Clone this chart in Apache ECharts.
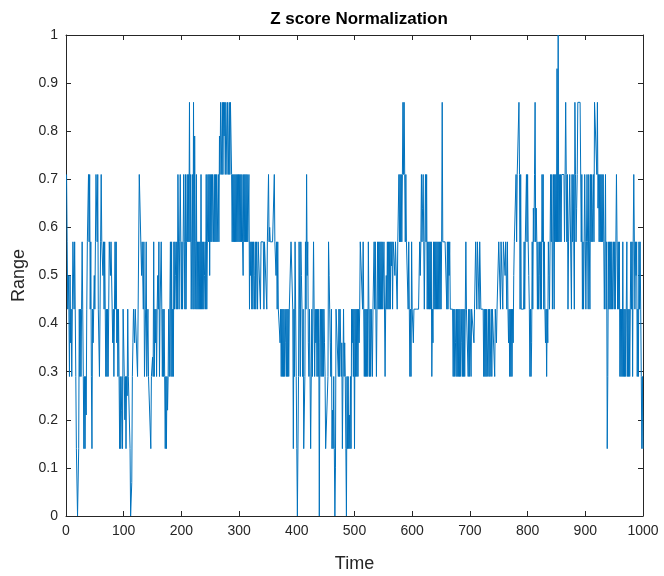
<!DOCTYPE html>
<html>
<head>
<meta charset="utf-8">
<script src="https://cdn.jsdelivr.net/npm/echarts@6/dist/echarts.min.js"></script>
<style>html,body{margin:0;padding:0;background:#fff}#c{width:664px;height:576px}</style>
</head>
<body>
<div id="c"></div>
<script>
var xTicks = [0,100,200,300,400,500,600,700,800,900,1000];
var yTicks = [0,0.1,0.2,0.3,0.4,0.5,0.6,0.7,0.8,0.9,1];

var v000 = [
.71,.57,.43,.5,.43,.29,.5,.36,.43,.29,
.43,.57,.57,.43,.57,.43,.29,.14,.14,0,
0,.14,.43,.29,.43,.29,.43,.57,.43,.29,
.14,.29,.14,.29,.21,.43,.57,.57,.71,.57,
.71,.43,.57,.29,.14,.43,.36,.43,.5,.43,
.57,.71,.71,.57,.71,.43,.43,.29,.43,.57,
.71,.57,.57,.5,.57,.43,.57,.43,.29,.43,
.29,.43,.29,.43,.57,.57,.5,.57,.57,.43,
.36,.43,.29,.43,.57,.43,.57,.36,.43,.29,
.43,.29,.14,.29,.14,.22,.29,.14,.43,.43];
var v100 = [
.29,.2,.29,.14,.29,.25,.43,.29,.29,.29,
.14,0,0,.07,.29,.36,.43,.43,.36,.43,
.43,.43,.43,.29,.43,.43,.71,.71,.71,.71,
.5,.57,.57,.43,.57,.29,.29,.43,.57,.29,
.29,.43,.29,.29,.29,.29,.14,.29,.29,.33,
.29,.57,.29,.43,.36,.43,.29,.43,.5,.43,
.57,.29,.43,.43,.57,.43,.29,.43,.29,.43,
.29,.14,.29,.14,.29,.22,.29,.43,.29,.43,
.57,.29,.57,.29,.43,.29,.57,.43,.57,.5,
.43,.57,.43,.71,.71,.43,.57,.71,.57,.43];
var v200 = [
.57,.43,.57,.71,.57,.43,.71,.43,.57,.71,
.57,.71,.57,.86,.57,.71,.43,.57,.71,.43,
.86,.43,.79,.57,.43,.71,.43,.57,.43,.57,
.43,.57,.43,.71,.43,.57,.43,.57,.43,.5,
.57,.43,.71,.43,.57,.71,.57,.71,.5,.71,
.57,.71,.57,.71,.71,.57,.71,.57,.71,.57,
.71,.57,.57,.71,.57,.79,.71,.86,.86,.71,
.86,.71,.86,.79,.86,.71,.86,.79,.71,.86,
.86,.71,.86,.71,.86,.86,.71,.57,.71,.57,
.71,.57,.71,.57,.71,.57,.71,.57,.71,.57];
var v300 = [
.71,.57,.71,.57,.71,.57,.5,.71,.57,.71,
.57,.71,.57,.71,.57,.57,.71,.43,.57,.5,
.57,.43,.57,.43,.57,.5,.43,.57,.43,.57,
.57,.43,.57,.57,.57,.57,.43,.57,.57,.57,
.57,.57,.43,.57,.57,.57,.57,.43,.57,.57,
.71,.57,.6,.57,.57,.57,.57,.57,.57,.57,
.71,.57,.57,.5,.57,.43,.57,.43,.43,.43,
.36,.43,.29,.43,.29,.43,.29,.43,.29,.36,
.43,.29,.43,.29,.43,.29,.43,.43,.43,.57,
.57,.57,.43,.14,.43,.29,.57,.43,.29,.14];
var v400 = [
0,0,.29,.57,.43,.29,.57,.5,.43,.29,
.43,.14,.14,.29,.57,.43,.71,.5,.57,.36,
.29,.43,.29,.14,.14,.43,.29,.43,.57,.43,
.29,.43,.36,.43,.29,.43,.29,.43,0,.36,
.43,.29,.43,.29,.43,.29,.43,.36,.29,.14,
.14,.14,.14,.29,.57,.5,.43,.36,.29,.43,
.14,.22,.14,.29,.14,0,.1,.43,.43,.43,
.43,.29,.43,.29,.43,.43,.29,.36,.14,.29,
.43,.29,.36,.29,.14,0,.29,.14,.29,.14,
.21,.14,.29,.14,.43,.36,.43,.29,.43,.14];
var v500 = [
.43,.29,.43,.29,.43,.29,.43,.36,.43,.57,
.57,.57,.57,.43,.57,.43,.29,.43,.29,.43,
.29,.43,.29,.57,.43,.29,.43,.29,.43,.43,
.29,.43,.43,.57,.43,.57,.57,.29,.43,.57,
.43,.57,.43,.57,.43,.57,.43,.57,.43,.43,
.57,.57,.29,.43,.5,.43,.57,.43,.57,.43,
.57,.43,.57,.52,.57,.43,.57,.57,.57,.5,
.57,.57,.57,.43,.57,.57,.71,.57,.71,.57,
.71,.57,.71,.86,.71,.86,.71,.57,.71,.57,
.57,.57,.43,.57,.43,.29,.43,.29,.57,.43];
var v600 = [
.43,.36,.43,.43,.43,.43,.43,.43,.43,.43,
.43,.43,.57,.5,.57,.71,.57,.64,.71,.57,
.43,.57,.71,.57,.71,.43,.57,.43,.57,.43,
.57,.43,.57,.29,.43,.36,.57,.43,.57,.43,
.57,.43,.57,.43,.57,.43,.57,.43,.57,.43,
.57,.86,.57,.57,.57,.57,.57,.57,.57,.43,
.57,.43,.57,.5,.57,.43,.43,.43,.43,.43,
.29,.43,.29,.43,.36,.29,.43,.29,.43,.29,
.43,.29,.43,.29,.36,.43,.29,.43,.29,.43,
.29,.43,.57,.43,.43,.43,.29,.43,.29,.43];
var v700 = [
.43,.29,.43,.43,.43,.43,.36,.43,.43,.57,
.57,.43,.57,.57,.57,.43,.57,.57,.43,.43,
.43,.43,.43,.29,.43,.29,.43,.29,.43,.29,
.29,.43,.29,.43,.29,.29,.43,.29,.43,.43,
.43,.43,.29,.43,.43,.36,.43,.43,.43,.57,
.57,.57,.43,.57,.57,.57,.43,.57,.57,.57,
.5,.57,.57,.43,.57,.43,.36,.43,.29,.43,
.29,.43,.29,.43,.36,.5,.57,.57,.57,.71,
.57,.71,.71,.71,.86,.71,.43,.71,.43,.43,
.43,.43,.43,.57,.43,.57,.57,.71,.57,.71];
var v800 = [
.57,.5,.43,.29,.43,.29,.36,.57,.43,.64,
.57,.71,.86,.57,.64,.57,.43,.57,.43,.5,
.57,.43,.57,.43,.71,.57,.71,.43,.57,.43,
.36,.43,.29,.43,.36,.57,.5,.43,.57,.71,
.57,.71,.43,.57,.71,.43,.71,.57,.71,.57,
.93,.57,1,.57,.71,.57,.71,.57,.71,.71,
.71,.71,.71,.57,.71,.86,.71,.57,.71,.43,
.57,.57,.71,.71,.71,.43,.71,.57,.71,.57,
.43,.86,.71,.57,.64,.71,.86,.86,.86,.86,
.86,.86,.57,.71,.43,.57,.43,.57,.71,.57];
var v900 = [
.43,.57,.71,.57,.43,.71,.57,.43,.71,.57,
.71,.57,.64,.71,.57,.86,.86,.86,.86,.71,
.86,.64,.71,.57,.71,.57,.71,.57,.71,.57,
.71,.57,.43,.57,.71,.43,.57,.14,.29,.57,
.43,.57,.43,.57,.43,.57,.43,.43,.57,.43,
.57,.43,.57,.71,.57,.43,.57,.43,.57,.29,
.43,.29,.43,.29,.57,.29,.43,.29,.43,.29,
.43,.57,.29,.43,.29,.43,.29,.43,.57,.43,
.57,.29,.57,.71,.57,.43,.57,.5,.57,.29,
.43,.29,.57,.43,.57,.43,.29,.14,.29,.14];

var values = [].concat(v000,v100,v200,v300,v400,v500,v600,v700,v800,v900);
var seriesData = values.map(function(v,i){ return [i+1, v]; });

var axisColor = '#262626';
var font = 'Liberation Sans, Arial, Helvetica, sans-serif';
function xAx(show){
  return {type:'value', min:0, max:1000, interval:100, position: show?'bottom':'top',
    axisLine:{show:true, onZero:false, lineStyle:{color:axisColor,width:1}},
    axisTick:{show:true, inside:true, length:5, lineStyle:{color:axisColor}},
    axisLabel:{show:show, color:axisColor, fontSize:14, fontFamily:font, margin:8,
      formatter:function(v){return String(v);}},
    splitLine:{show:false},
    name: show?'Time':'', nameLocation:'middle', nameGap:39,
    nameTextStyle:{color:axisColor, fontSize:18, fontFamily:font}};
}
function yAx(show){
  return {type:'value', min:0, max:1, interval:0.1, position: show?'left':'right',
    axisLine:{show:true, onZero:false, lineStyle:{color:axisColor,width:1}},
    axisTick:{show:true, inside:true, length:5, lineStyle:{color:axisColor}},
    axisLabel:{show:show, color:axisColor, fontSize:14, fontFamily:font, margin:8,
      formatter:function(v){return String(Math.round(v*10)/10);}},
    splitLine:{show:false},
    name: show?'Range':'', nameLocation:'middle', nameGap:38,
    nameTextStyle:{color:axisColor, fontSize:18, fontFamily:font}};
}
var chart = echarts.init(document.getElementById('c'));
chart.setOption({
  animation:false,
  backgroundColor:'#fff',
  title:{text:'Z score Normalization', left:354, top:6, textAlign:'center',
    textStyle:{color:'#000', fontSize:17, fontWeight:'bold', fontFamily:font}},
  grid:{left:66, right:21, top:35, bottom:60, containLabel:false, outerBoundsMode:'none'},
  xAxis:[xAx(true), xAx(false)],
  yAxis:[yAx(true), yAx(false)],
  series:[{type:'line', xAxisIndex:0, yAxisIndex:0, data:seriesData, showSymbol:false,
    symbol:'none', sampling:null, lineStyle:{color:'#0072BD', width:1}, itemStyle:{color:'#0072BD'}}]
});
</script>
</body>
</html>
